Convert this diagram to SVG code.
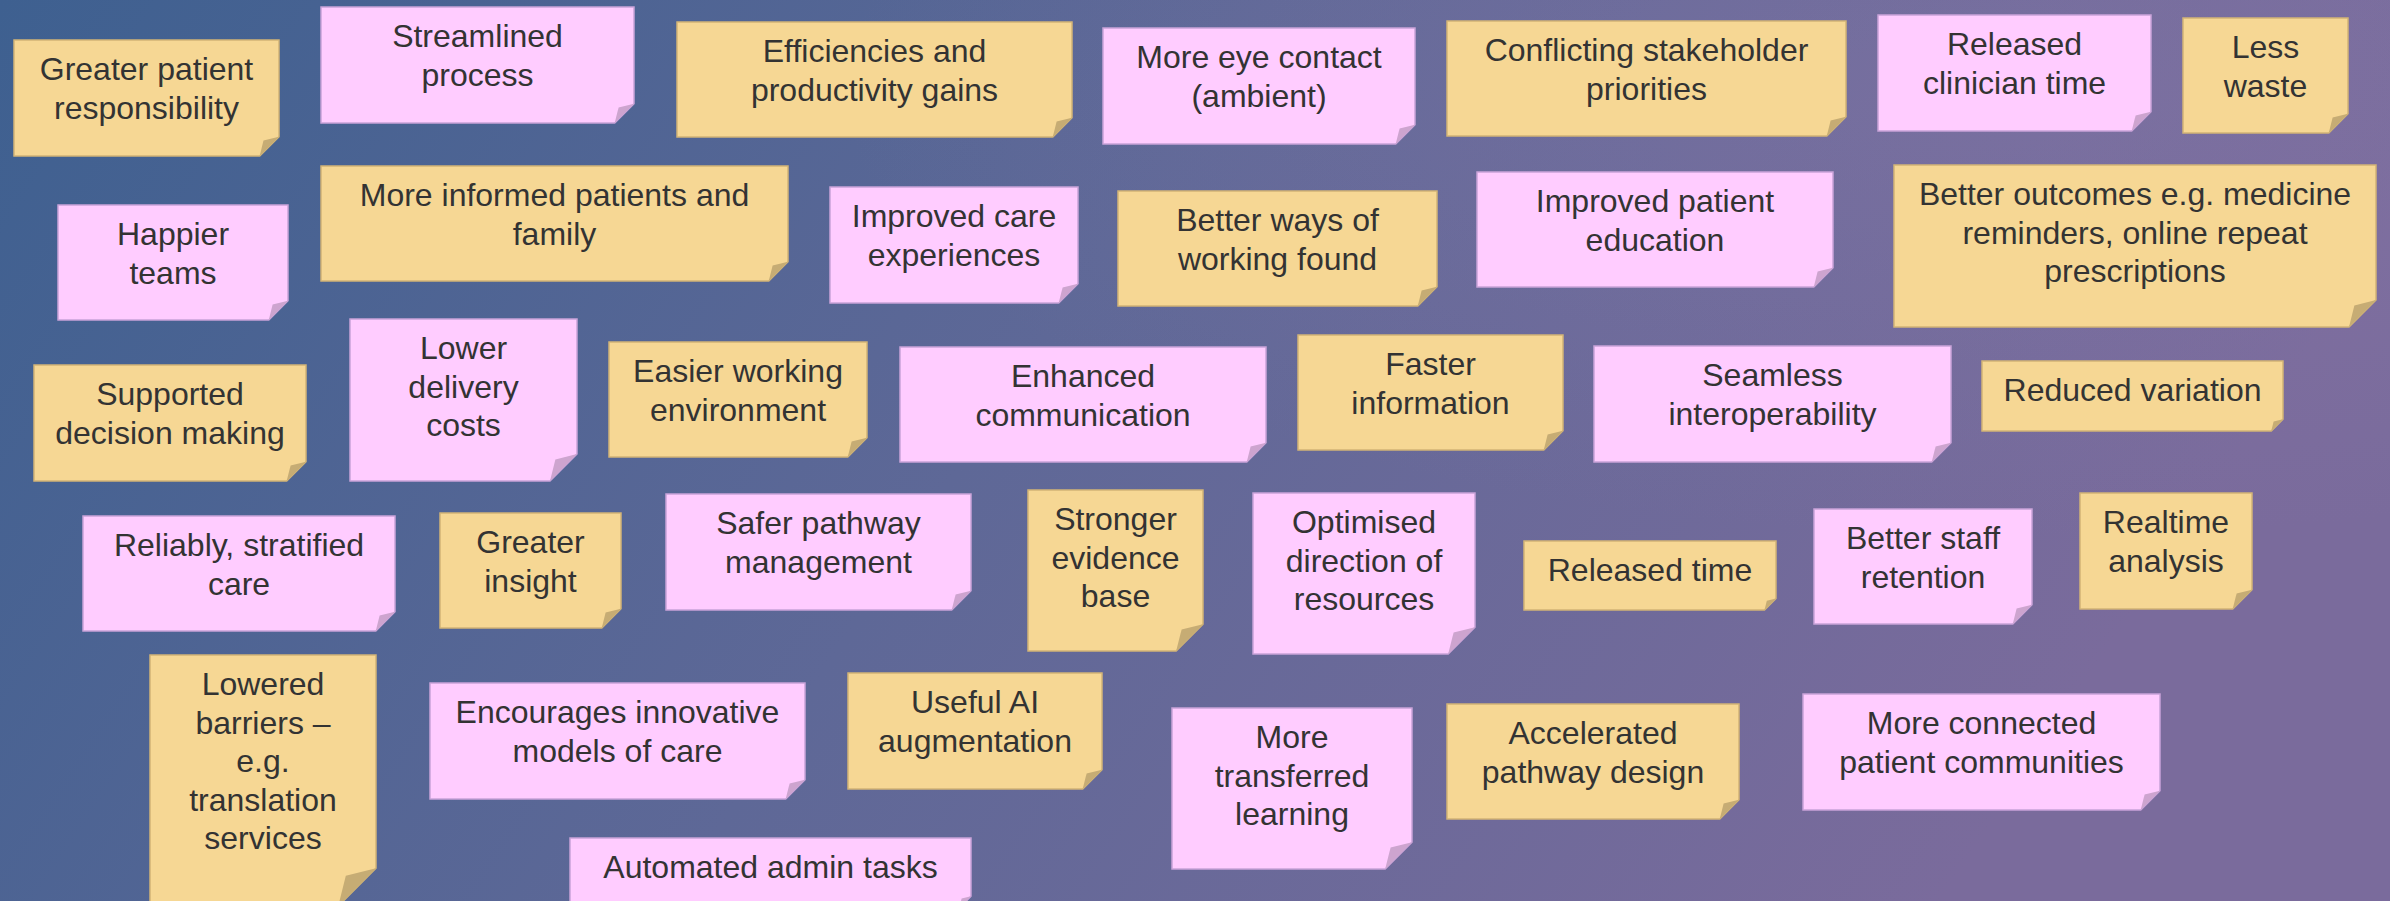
<svg xmlns="http://www.w3.org/2000/svg" width="2390" height="901" viewBox="0 0 2390 901">
  <defs>
    <linearGradient id="bg" x1="0" y1="0" x2="1" y2="0.25">
      <stop offset="0" stop-color="#3E6090"/>
      <stop offset="0.5" stop-color="#5E6897"/>
      <stop offset="1" stop-color="#7A6B9C"/>
    </linearGradient>
    <radialGradient id="glow" cx="0.85" cy="0.1" r="0.5">
      <stop offset="0" stop-color="#8A7AAA" stop-opacity="0.35"/>
      <stop offset="1" stop-color="#8A7AAA" stop-opacity="0"/>
    </radialGradient>
  </defs>
  <style>
    .y { fill: #F6D794; stroke: #D2B476; stroke-width: 1.5; }
    .p { fill: #FFCCFF; stroke: #C9A3D9; stroke-width: 1.5; }
    .fy { fill: #C6AC74; }
    .fp { fill: #CDA4CF; }
    text { font-family: "Liberation Sans", Arial, sans-serif; font-size: 32px; fill: #333333; text-anchor: middle; }
  </style>

  <!-- backdrop -->
  <rect x="0" y="0" width="2390" height="901" fill="url(#bg)"/>
  <rect x="0" y="0" width="2390" height="901" fill="url(#glow)"/>

  <!-- sticky notes: body with clipped corner, then the folded flap, then label -->
  <g id="greater-patient-responsibility">
    <path class="y" d="M14 40H279V136.7L259.7 156H14Z"/>
    <path class="fy" d="M259.7 156L263.5 140.5L279 136.7Z"/>
    <text x="146.5"><tspan x="146.5" y="80">Greater patient</tspan><tspan x="146.5" y="118.5">responsibility</tspan></text>
  </g>
  <g id="streamlined-process">
    <path class="p" d="M321 7H634V103.7L614.7 123H321Z"/>
    <path class="fp" d="M614.7 123L618.6 107.6L634 103.7Z"/>
    <text><tspan x="477.5" y="47">Streamlined</tspan><tspan x="477.5" y="85.5">process</tspan></text>
  </g>
  <g id="efficiencies">
    <path class="y" d="M677 22H1072V117.8L1052.8 137H677Z"/>
    <path class="fy" d="M1052.8 137L1056.6 121.6L1072 117.8Z"/>
    <text><tspan x="874.5" y="62">Efficiencies and</tspan><tspan x="874.5" y="100.5">productivity gains</tspan></text>
  </g>
  <g id="more-eye-contact">
    <path class="p" d="M1103 28H1415V124.7L1395.7 144H1103Z"/>
    <path class="fp" d="M1395.7 144L1399.6 128.6L1415 124.7Z"/>
    <text><tspan x="1259" y="68">More eye contact</tspan><tspan x="1259" y="106.5">(ambient)</tspan></text>
  </g>
  <g id="conflicting-priorities">
    <path class="y" d="M1447 21H1846V116.8L1826.8 136H1447Z"/>
    <path class="fy" d="M1826.8 136L1830.6 120.6L1846 116.8Z"/>
    <text><tspan x="1646.5" y="61">Conflicting stakeholder</tspan><tspan x="1646.5" y="99.5">priorities</tspan></text>
  </g>
  <g id="released-clinician-time">
    <path class="p" d="M1878 15H2151V111.7L2131.7 131H1878Z"/>
    <path class="fp" d="M2131.7 131L2135.6 115.6L2151 111.7Z"/>
    <text><tspan x="2014.5" y="55">Released</tspan><tspan x="2014.5" y="93.5">clinician time</tspan></text>
  </g>
  <g id="less-waste">
    <path class="y" d="M2183 18H2348V113.8L2328.8 133H2183Z"/>
    <path class="fy" d="M2328.8 133L2332.6 117.6L2348 113.8Z"/>
    <text><tspan x="2265.5" y="58">Less</tspan><tspan x="2265.5" y="96.5">waste</tspan></text>
  </g>
  <g id="happier-teams">
    <path class="p" d="M58 205H288V300.8L268.8 320H58Z"/>
    <path class="fp" d="M268.8 320L272.6 304.6L288 300.8Z"/>
    <text><tspan x="173" y="245">Happier</tspan><tspan x="173" y="283.5">teams</tspan></text>
  </g>
  <g id="more-informed-patients">
    <path class="y" d="M321 166H788V261.8L768.8 281H321Z"/>
    <path class="fy" d="M768.8 281L772.6 265.6L788 261.8Z"/>
    <text><tspan x="554.5" y="206">More informed patients and</tspan><tspan x="554.5" y="244.5">family</tspan></text>
  </g>
  <g id="improved-care-experiences">
    <path class="p" d="M830 187H1078V283.7L1058.7 303H830Z"/>
    <path class="fp" d="M1058.7 303L1062.6 287.6L1078 283.7Z"/>
    <text><tspan x="954" y="227">Improved care</tspan><tspan x="954" y="265.5">experiences</tspan></text>
  </g>
  <g id="better-ways-of-working">
    <path class="y" d="M1118 191H1437V286.8L1417.8 306H1118Z"/>
    <path class="fy" d="M1417.8 306L1421.6 290.6L1437 286.8Z"/>
    <text><tspan x="1277.5" y="231">Better ways of</tspan><tspan x="1277.5" y="269.5">working found</tspan></text>
  </g>
  <g id="improved-patient-education">
    <path class="p" d="M1477 172H1833V267.8L1813.8 287H1477Z"/>
    <path class="fp" d="M1813.8 287L1817.6 271.6L1833 267.8Z"/>
    <text><tspan x="1655" y="212">Improved patient</tspan><tspan x="1655" y="250.5">education</tspan></text>
  </g>
  <g id="better-outcomes">
    <path class="y" d="M1894 165H2376V300L2349 327H1894Z"/>
    <path class="fy" d="M2349 327L2354.4 305.4L2376 300Z"/>
    <text><tspan x="2135" y="205">Better outcomes e.g. medicine</tspan><tspan x="2135" y="243.5">reminders, online repeat</tspan><tspan x="2135" y="282">prescriptions</tspan></text>
  </g>
  <g id="supported-decision-making">
    <path class="y" d="M34 365H306V461.7L286.7 481H34Z"/>
    <path class="fy" d="M286.7 481L290.6 465.6L306 461.7Z"/>
    <text><tspan x="170" y="405">Supported</tspan><tspan x="170" y="443.5">decision making</tspan></text>
  </g>
  <g id="lower-delivery-costs">
    <path class="p" d="M350 319H577V454L550 481H350Z"/>
    <path class="fp" d="M550 481L555.4 459.4L577 454Z"/>
    <text><tspan x="463.5" y="359">Lower</tspan><tspan x="463.5" y="397.5">delivery</tspan><tspan x="463.5" y="436">costs</tspan></text>
  </g>
  <g id="easier-working-environment">
    <path class="y" d="M609 342H867V437.8L847.8 457H609Z"/>
    <path class="fy" d="M847.8 457L851.6 441.6L867 437.8Z"/>
    <text><tspan x="738" y="382">Easier working</tspan><tspan x="738" y="420.5">environment</tspan></text>
  </g>
  <g id="enhanced-communication">
    <path class="p" d="M900 347H1266V442.8L1246.8 462H900Z"/>
    <path class="fp" d="M1246.8 462L1250.6 446.6L1266 442.8Z"/>
    <text><tspan x="1083" y="387">Enhanced</tspan><tspan x="1083" y="425.5">communication</tspan></text>
  </g>
  <g id="faster-information">
    <path class="y" d="M1298 335H1563V430.8L1543.8 450H1298Z"/>
    <path class="fy" d="M1543.8 450L1547.6 434.6L1563 430.8Z"/>
    <text><tspan x="1430.5" y="375">Faster</tspan><tspan x="1430.5" y="413.5">information</tspan></text>
  </g>
  <g id="seamless-interoperability">
    <path class="p" d="M1594 346H1951V442.7L1931.7 462H1594Z"/>
    <path class="fp" d="M1931.7 462L1935.6 446.6L1951 442.7Z"/>
    <text><tspan x="1772.5" y="386">Seamless</tspan><tspan x="1772.5" y="424.5">interoperability</tspan></text>
  </g>
  <g id="reduced-variation">
    <path class="y" d="M1982 361H2283V419.3L2271.3 431H1982Z"/>
    <path class="fy" d="M2271.3 431L2273.6 421.6L2283 419.3Z"/>
    <text><tspan x="2132.5" y="401">Reduced variation</tspan></text>
  </g>
  <g id="reliably-stratified-care">
    <path class="p" d="M83 516H395V611.8L375.8 631H83Z"/>
    <path class="fp" d="M375.8 631L379.6 615.6L395 611.8Z"/>
    <text><tspan x="239" y="556">Reliably, stratified</tspan><tspan x="239" y="594.5">care</tspan></text>
  </g>
  <g id="greater-insight">
    <path class="y" d="M440 513H621V608.8L601.8 628H440Z"/>
    <path class="fy" d="M601.8 628L605.6 612.6L621 608.8Z"/>
    <text><tspan x="530.5" y="553">Greater</tspan><tspan x="530.5" y="591.5">insight</tspan></text>
  </g>
  <g id="safer-pathway-management">
    <path class="p" d="M666 494H971V590.7L951.7 610H666Z"/>
    <path class="fp" d="M951.7 610L955.6 594.6L971 590.7Z"/>
    <text><tspan x="818.5" y="534">Safer pathway</tspan><tspan x="818.5" y="572.5">management</tspan></text>
  </g>
  <g id="stronger-evidence-base">
    <path class="y" d="M1028 490H1203V624.2L1176.2 651H1028Z"/>
    <path class="fy" d="M1176.2 651L1181.6 629.6L1203 624.2Z"/>
    <text><tspan x="1115.5" y="530">Stronger</tspan><tspan x="1115.5" y="568.5">evidence</tspan><tspan x="1115.5" y="607">base</tspan></text>
  </g>
  <g id="optimised-direction-of-resources">
    <path class="p" d="M1253 493H1475V627.2L1448.2 654H1253Z"/>
    <path class="fp" d="M1448.2 654L1453.6 632.6L1475 627.2Z"/>
    <text><tspan x="1364" y="533">Optimised</tspan><tspan x="1364" y="571.5">direction of</tspan><tspan x="1364" y="610">resources</tspan></text>
  </g>
  <g id="released-time">
    <path class="y" d="M1524 541H1776V598.5L1764.5 610H1524Z"/>
    <path class="fy" d="M1764.5 610L1766.8 600.8L1776 598.5Z"/>
    <text><tspan x="1650" y="581">Released time</tspan></text>
  </g>
  <g id="better-staff-retention">
    <path class="p" d="M1814 509H2032V604.8L2012.8 624H1814Z"/>
    <path class="fp" d="M2012.8 624L2016.6 608.6L2032 604.8Z"/>
    <text><tspan x="1923" y="549">Better staff</tspan><tspan x="1923" y="587.5">retention</tspan></text>
  </g>
  <g id="realtime-analysis">
    <path class="y" d="M2080 493H2252V589.7L2232.7 609H2080Z"/>
    <path class="fy" d="M2232.7 609L2236.6 593.6L2252 589.7Z"/>
    <text><tspan x="2166" y="533">Realtime</tspan><tspan x="2166" y="571.5">analysis</tspan></text>
  </g>
  <g id="lowered-barriers">
    <path class="y" d="M150 655H376V868.3L338.3 906H150Z"/>
    <path class="fy" d="M338.3 906L345.8 875.8L376 868.3Z"/>
    <text><tspan x="263" y="695">Lowered</tspan><tspan x="263" y="733.5">barriers –</tspan><tspan x="263" y="772">e.g.</tspan><tspan x="263" y="810.5">translation</tspan><tspan x="263" y="849">services</tspan></text>
  </g>
  <g id="encourages-innovative-models">
    <path class="p" d="M430 683H805V779.7L785.7 799H430Z"/>
    <path class="fp" d="M785.7 799L789.6 783.6L805 779.7Z"/>
    <text><tspan x="617.5" y="723">Encourages innovative</tspan><tspan x="617.5" y="761.5">models of care</tspan></text>
  </g>
  <g id="useful-ai-augmentation">
    <path class="y" d="M848 673H1102V769.7L1082.7 789H848Z"/>
    <path class="fy" d="M1082.7 789L1086.6 773.6L1102 769.7Z"/>
    <text><tspan x="975" y="713">Useful AI</tspan><tspan x="975" y="751.5">augmentation</tspan></text>
  </g>
  <g id="automated-admin-tasks">
    <path class="p" d="M570 838H971V896.3L959.3 908H570Z"/>
    <path class="fp" d="M959.3 908L961.6 898.6L971 896.3Z"/>
    <text><tspan x="770.5" y="878">Automated admin tasks</tspan></text>
  </g>
  <g id="more-transferred-learning">
    <path class="p" d="M1172 708H1412V842.2L1385.2 869H1172Z"/>
    <path class="fp" d="M1385.2 869L1390.6 847.6L1412 842.2Z"/>
    <text><tspan x="1292" y="748">More</tspan><tspan x="1292" y="786.5">transferred</tspan><tspan x="1292" y="825">learning</tspan></text>
  </g>
  <g id="accelerated-pathway-design">
    <path class="y" d="M1447 704H1739V799.8L1719.8 819H1447Z"/>
    <path class="fy" d="M1719.8 819L1723.6 803.6L1739 799.8Z"/>
    <text><tspan x="1593" y="744">Accelerated</tspan><tspan x="1593" y="782.5">pathway design</tspan></text>
  </g>
  <g id="more-connected-communities">
    <path class="p" d="M1803 694H2160V790.7L2140.7 810H1803Z"/>
    <path class="fp" d="M2140.7 810L2144.6 794.6L2160 790.7Z"/>
    <text><tspan x="1981.5" y="734">More connected</tspan><tspan x="1981.5" y="772.5">patient communities</tspan></text>
  </g>
</svg>
